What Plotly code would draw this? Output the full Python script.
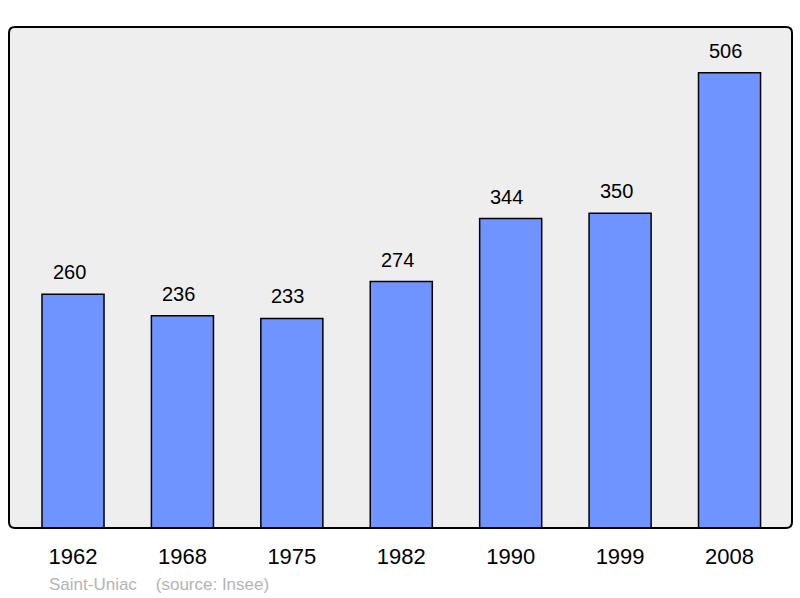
import plotly.graph_objects as go

# population data
years = ["1962", "1968", "1975", "1982", "1990", "1999", "2008"]
population = [260, 236, 233, 274, 344, 350, 506]

x_pos = list(range(len(years)))

fig = go.Figure()
fig.add_trace(go.Bar(
    x=x_pos, y=population, width=0.567,
    marker=dict(color="#7094FF", line=dict(color="#000000", width=1.5)),
    hoverinfo="skip",
))

# value labels above bars (slightly left of centre, as in the original)
for xi, v in zip(x_pos, population):
    fig.add_annotation(x=xi, y=v, text=str(v), showarrow=False,
                       yshift=22, xshift=-4,
                       font=dict(size=20, color="#000000"))

# rounded frame around plot area
rx, ry = 6 / 783, 6 / 501
frame = (f"M {rx} 0 L {1 - rx} 0 Q 1 0 1 {ry} L 1 {1 - ry} Q 1 1 {1 - rx} 1 "
         f"L {rx} 1 Q 0 1 0 {1 - ry} L 0 {ry} Q 0 0 {rx} 0 Z")
fig.add_shape(type="path", path=frame, xref="paper", yref="paper",
              line=dict(color="#000000", width=2), layer="above")

fig.add_annotation(text="Saint-Uniac&nbsp;&nbsp;&nbsp;&nbsp;(source: Insee)",
                   xref="paper", yref="paper", x=(47 - 9) / 783, y=-56 / 501,
                   xanchor="left", yanchor="middle", showarrow=False,
                   font=dict(size=17, color="#B4B4B4"))

fig.update_layout(
    width=800, height=598,
    margin=dict(l=9, r=8, t=27, b=70),
    plot_bgcolor="#EEEEEE", paper_bgcolor="#FFFFFF",
    font=dict(family="Liberation Sans, Arial, sans-serif", color="#000000"),
    showlegend=False,
    xaxis=dict(range=[-0.585, 6.571], tickvals=x_pos, ticktext=years,
               showgrid=False, zeroline=False, ticks="", ticklabelstandoff=13,
               tickfont=dict(size=22), fixedrange=True),
    yaxis=dict(range=[0, 557], showgrid=False, zeroline=False,
               showticklabels=False, fixedrange=True),
)

fig.write_html("out.html", config={"displayModeBar": False},
               post_script="document.body.style.margin='0';")
